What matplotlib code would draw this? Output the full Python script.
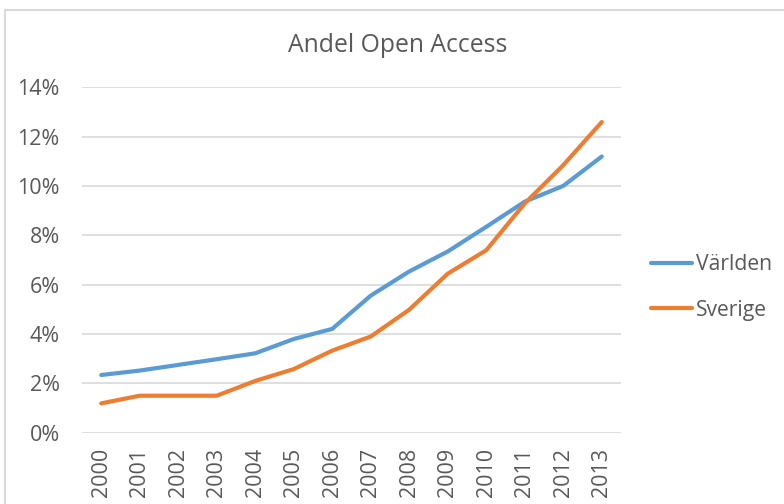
import matplotlib
matplotlib.use("Agg")
import matplotlib.pyplot as plt
from matplotlib.lines import Line2D
from matplotlib.ticker import PercentFormatter

# data (share in %)
years = ["2000", "2001", "2002", "2003", "2004", "2005", "2006",
         "2007", "2008", "2009", "2010", "2011", "2012", "2013"]
varlden = [2.34, 2.52, 2.75, 2.98, 3.22, 3.80, 4.21,
           5.56, 6.54, 7.35, 8.35, 9.37, 10.01, 11.20]
sverige = [1.19, 1.50, 1.50, 1.50, 2.10, 2.58, 3.33,
           3.90, 4.99, 6.45, 7.40, 9.30, 10.85, 12.60]

BLUE = "#5B9BD5"
ORANGE = "#ED7D31"
GRID = "#D9D9D9"
TXT = "#595959"

plt.rcParams["font.family"] = ["Open Sans", "DejaVu Sans"]

fig = plt.figure(figsize=(7.84, 5.04), dpi=100)
ax = fig.add_axes([82 / 784, 1 - 432.7 / 504, (621 - 82) / 784, (432.7 - 87.5) / 504])

x = list(range(len(years)))
ax.plot(x, varlden, color=BLUE, lw=3, label="Världen", solid_capstyle="round")
ax.plot(x, sverige, color=ORANGE, lw=3, label="Sverige", solid_capstyle="round")

ax.set_xlim(-0.5, len(years) - 0.5)
ax.set_ylim(0, 14)
ax.set_yticks(range(0, 15, 2))
ax.yaxis.set_major_formatter(PercentFormatter(decimals=0))
ax.set_xticks(x)
ax.set_xticklabels(years, rotation=90)

ax.grid(axis="y", color=GRID, lw=1.2)
ax.set_axisbelow(True)
for s in ax.spines.values():
    s.set_visible(False)
ax.tick_params(axis="y", length=0, pad=16, labelsize=15.5, labelcolor=TXT)
ax.tick_params(axis="x", length=0, pad=11, labelsize=15.5, labelcolor=TXT)

fig.text(398 / 784, 1 - 45 / 504, "Andel Open Access", ha="center", va="center",
         fontsize=17.8, color=TXT)

ax.legend(loc="center left", bbox_to_anchor=(651 / 784, 1 - 287.5 / 504),
          bbox_transform=fig.transFigure, frameon=False, fontsize=15.2,
          handlelength=1.95, handletextpad=0.2, labelspacing=1.15,
          borderpad=0, borderaxespad=0, labelcolor=TXT)

# outer chart border (only top and left visible in the crop)
fig.add_artist(Line2D([5 / 784, 1.0], [1 - 10 / 504, 1 - 10 / 504],
                      transform=fig.transFigure, color=GRID, lw=1.5))
fig.add_artist(Line2D([5 / 784, 5 / 784], [1 - 10 / 504, 0.0],
                      transform=fig.transFigure, color=GRID, lw=1.5))

fig.savefig("out.png", dpi=100)
